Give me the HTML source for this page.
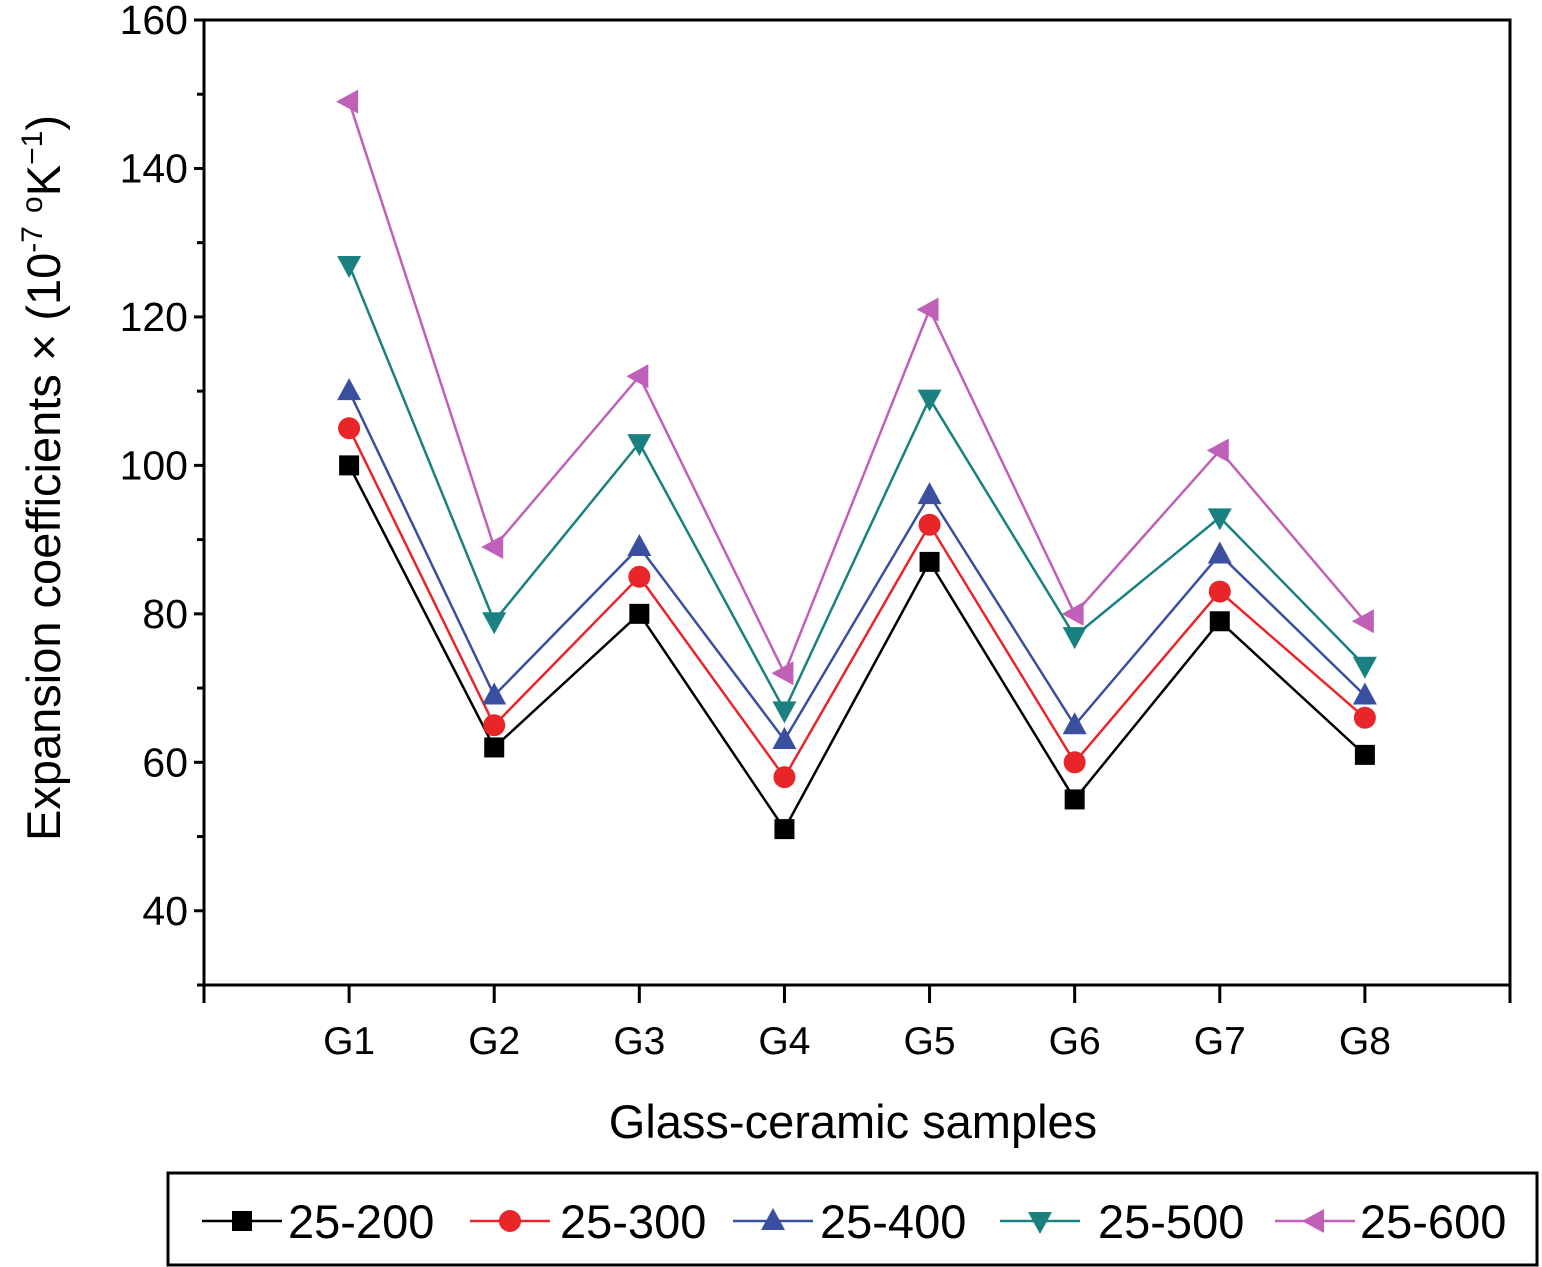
<!DOCTYPE html>
<html><head><meta charset="utf-8"><style>
body{margin:0;background:#fff}
svg{display:block;font-family:"Liberation Sans",Arial,sans-serif}
</style></head><body>
<svg width="1542" height="1267" viewBox="0 0 1542 1267">
<g id="plot"></g>
</svg>
<script>
const categories=["G1","G2","G3","G4","G5","G6","G7","G8"];
const seriesNames=["25-200","25-300","25-400","25-500","25-600"];
const s200=[100,62,80,51,87,55,79,61];
const s300=[105,65,85,58,92,60,83,66];
const s400=[110,69,89,63,96,65,88,69];
const s500=[127,79,103,67,109,77,93,73];
const s600=[149,89,112,72,121,80,102,79];
const yTicks=[40,60,80,100,120,140,160];
const colors=["#000","#e8262a","#3a4fa0","#1a8080","#c060b8"];
const markers=["square","circle","up","down","left"];
const allSeries=[s200,s300,s400,s500,s600];

const NS="http://www.w3.org/2000/svg";
const g=document.getElementById('plot');
const L=204,R=1510,T=20,B=985;
const x=i=>L+(i+1)*(R-L)/9;
const y=v=>B-(v-30)*(B-T)/130;
function el(t,a,p){const e=document.createElementNS(NS,t);for(const k in a)e.setAttribute(k,a[k]);(p||g).appendChild(e);return e;}
function marker(type,cx,cy,c,p){
 let e;
 if(type=="square")e=el('rect',{x:cx-10,y:cy-10,width:20,height:20,fill:c},p);
 else if(type=="circle")e=el('circle',{cx:cx,cy:cy,r:11,fill:c},p);
 else{let pts;
  if(type=="up")pts=[[cx,cy-13],[cx-12,cy+9],[cx+12,cy+9]];
  else if(type=="down")pts=[[cx,cy+13],[cx-12,cy-9],[cx+12,cy-9]];
  else pts=[[cx-13,cy],[cx+9,cy-12],[cx+9,cy+12]];
  e=el('polygon',{points:pts.map(p=>p.join(',')).join(' '),fill:c},p);}
 return e;
}
const frame=el('rect',{x:L,y:T,width:R-L,height:B-T,fill:'none',stroke:'#000','stroke-width':3});


for(let v=30;v<=160;v+=10){
 const major=yTicks.includes(v);
 el('line',{x1:L-(major?10:7),x2:L,y1:y(v),y2:y(v),stroke:'#000','stroke-width':3});
}
yTicks.forEach(v=>{
 const t=el('text',{x:L-16,y:y(v)+14,'text-anchor':'end','font-size':41});t.textContent=v;
 
 
});
for(let i=-1;i<=8;i++)el('line',{x1:x(i),x2:x(i),y1:B,y2:B+18,stroke:'#000','stroke-width':3});
categories.forEach((c,i)=>{
 const t=el('text',{x:x(i),y:1054,'text-anchor':'middle','font-size':39});t.textContent=c;
 
 
});
const xt=el('text',{x:853,y:1138,'text-anchor':'middle','font-size':47});xt.textContent="Glass-ceramic samples";


const yt=el('text',{transform:'translate(60,478) rotate(-90)','text-anchor':'middle','font-size':47});
yt.innerHTML='Expansion coefficients × (10<tspan dy="-18" font-size="30">-7</tspan><tspan dy="18"> </tspan><tspan dy="-18" font-size="30">o</tspan><tspan dy="18">K</tspan><tspan dy="-18" font-size="30">−1</tspan><tspan dy="18">)</tspan>';


allSeries.forEach((s,k)=>{
 const sg=el('g',{});
 
 
 el('polyline',{points:s.map((v,i)=>x(i)+','+y(v)).join(' '),fill:'none',stroke:colors[k],'stroke-width':2.5},sg);
 s.forEach((v,i)=>{const m=marker(markers[k],x(i),y(v),colors[k],sg);
  
  });
});
const lg=el('g',{});


el('rect',{x:168,y:1173,width:1369,height:92,fill:'none',stroke:'#000','stroke-width':3},lg);
const lx=[202,470,733,1000,1275];
const tx=[288,560,820,1098,1360];
seriesNames.forEach((n,k)=>{
 const e=el('g',{},lg);
 
 
 el('line',{x1:lx[k],x2:lx[k]+80,y1:1221,y2:1221,stroke:colors[k],'stroke-width':2.5},e);
 marker(markers[k],lx[k]+40,1221,colors[k],e);
 const t=el('text',{x:tx[k],y:1238,'font-size':47},e);t.textContent=n;
});
</script>
</body></html>
